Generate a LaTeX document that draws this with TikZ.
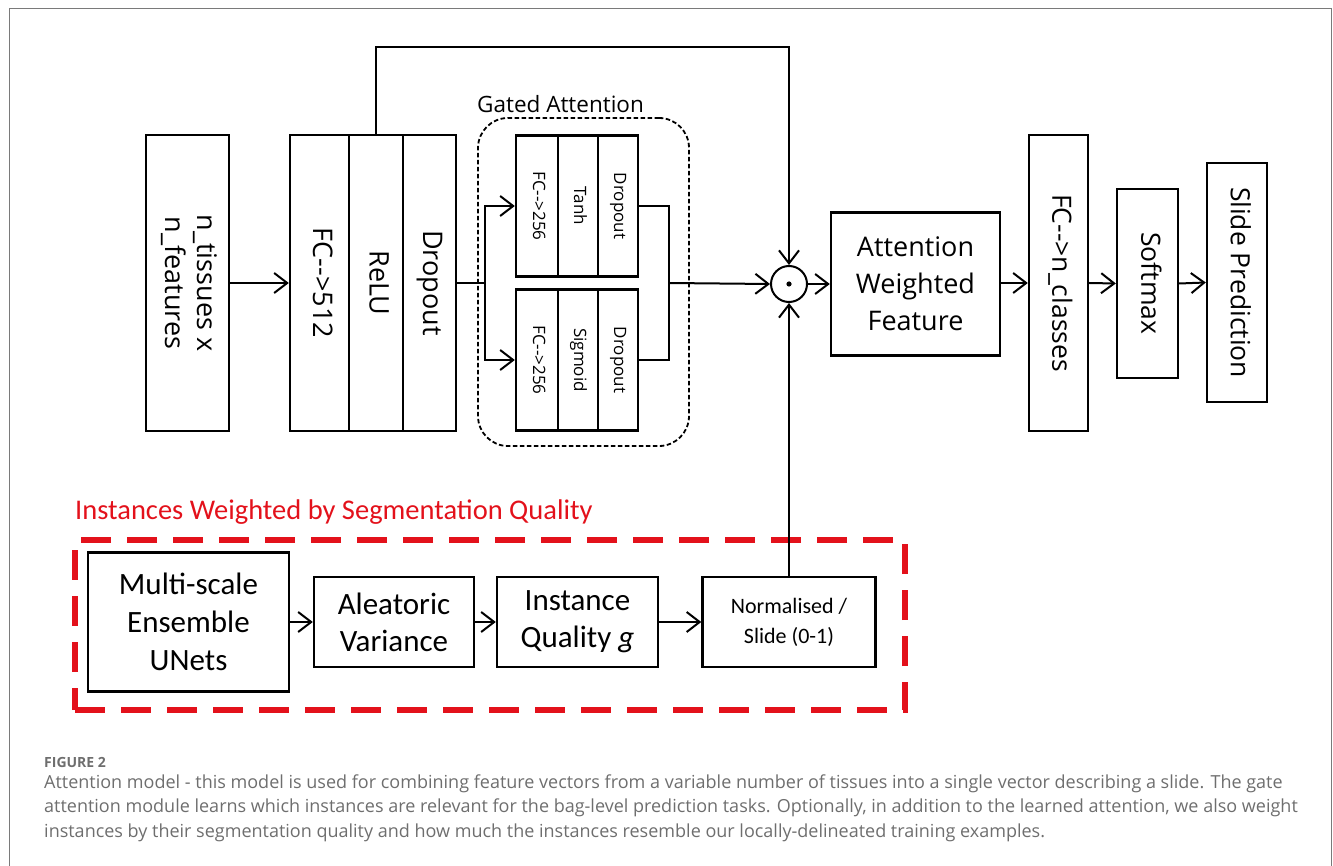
\documentclass[tikz,border=0pt]{standalone}
\usepackage{graphicx}
\usepackage{fontspec}
\setmainfont{Open Sans}
\newfontfamily\calib{Carlito}
\usetikzlibrary{arrows.meta}

\definecolor{capgray}{HTML}{6E6E6E}
\definecolor{framegray}{HTML}{7A7A7A}
\definecolor{segred}{HTML}{E3111B}

\newcommand{\vlab}[1]{\rotatebox{-90}{\begin{tabular}{@{}c@{}}#1\end{tabular}}}
\newcommand{\bigf}{\fontsize{27}{32}\selectfont}
\newcommand{\midf}{\fontsize{26.5}{31}\selectfont}
\newcommand{\smallf}{\fontsize{17}{20}\selectfont}

\tikzset{
  box/.style={draw, line width=2.4pt, inner sep=0pt, align=center},
  arr/.style={line width=2pt, -{Straight Barb[length=13pt,width=20pt,line width=2pt]}},
  wire/.style={line width=2pt},
  reddash/.style={draw=segred, line width=6.5pt, dash pattern=on 30pt off 16pt},
  gatedash/.style={draw, line width=1.8pt, dash pattern=on 4.5pt off 2.5pt, rounded corners=30pt},
  captext/.style={anchor=base west, inner sep=0pt, text=capgray, font=\fontsize{18}{22}\selectfont}
}

\begin{document}
\begin{tikzpicture}[x=1pt,y=-1pt]
\useasboundingbox (0,0) rectangle (1333,866);

% frame
\draw[framegray, line width=1.3pt] (9.5,866) -- (9.5,8.5) -- (1331.5,8.5) -- (1331.5,866);

% input and first layer
\node[box, minimum width=83, minimum height=296] (input) at (187.5,283) {\bigf\vlab{n\_tissues x\\n\_features}};
\node[box, minimum width=59, minimum height=296] (fc) at (319.5,283) {\bigf\vlab{FC{-}{-}>512}};
\node[box, minimum width=54, minimum height=296] (relu) at (376,283) {\bigf\vlab{ReLU}};
\node[box, minimum width=53, minimum height=296] (drop) at (429.5,283) {\bigf\vlab{Dropout}};

% gated attention
\node[gatedash, minimum width=211, minimum height=328] (gate) at (583.5,282) {};
\node[anchor=base west, inner sep=0pt, font=\fontsize{22.5}{26}\selectfont] (gatetitle) at (477,113) {Gated Attention};
\node[box, minimum width=42, minimum height=141] (tfc) at (537,206) {\smallf\vlab{FC{-}{-}>256}};
\node[box, minimum width=40, minimum height=141] (tanh) at (578,206) {\smallf\vlab{Tanh}};
\node[box, minimum width=40, minimum height=141] (tdrop) at (618,206) {\smallf\vlab{Dropout}};
\node[box, minimum width=42, minimum height=141] (sfc) at (537,360) {\smallf\vlab{FC{-}{-}>256}};
\node[box, minimum width=40, minimum height=141] (sig) at (578,360) {\smallf\vlab{Sigmoid}};
\node[box, minimum width=40, minimum height=141] (sdrop) at (618,360) {\smallf\vlab{Dropout}};

% product and head
\node[draw, circle, line width=2pt, minimum size=36, inner sep=0pt] (mult) at (789,284) {};
\fill (mult.center) circle (2.6);
\node[box, minimum width=169, minimum height=143, font=\fontsize{27}{37}\selectfont] (awf) at (915.5,284) {Attention\\Weighted\\Feature};
\node[box, minimum width=59, minimum height=296] (fccls) at (1058.5,283) {\midf\vlab{FC{-}{-}>n\_classes}};
\node[box, minimum width=61, minimum height=189] (soft) at (1147.5,283.5) {\midf\vlab{Softmax}};
\node[box, minimum width=60, minimum height=239] (pred) at (1237,282.5) {\midf\vlab{Slide Prediction}};

% segmentation quality branch
\node[reddash, minimum width=830, minimum height=170] (segbox) at (490,625) {};
\node[anchor=base west, inner sep=0pt, text=segred, font=\calib\fontsize{28.5}{33}\selectfont] (segtitle) at (75,519) {Instances Weighted by Segmentation Quality};
\node[box, minimum width=201, minimum height=139, font=\calib\fontsize{31}{38}\selectfont] (unets) at (188.5,622) {Multi-scale\\Ensemble\\UNets};
\node[box, minimum width=160, minimum height=90, font=\calib\fontsize{31}{37}\selectfont] (alea) at (394,622) {Aleatoric\\Variance};
\node[box, minimum width=161, minimum height=90, font=\calib\fontsize{31}{37}\selectfont] (quality) at (577.5,622) {Instance\\Quality \textit{g}};
\node[box, minimum width=173, minimum height=90, font=\calib\fontsize{22}{30}\selectfont] (norm) at (789,622) {Normalised /\\Slide (0-1)};

% connectors
\coordinate (split) at (485,283);
\coordinate (merge) at (669,283);
\coordinate (skip) at (789,47);
\draw[arr] (input.east) -- (fc.west);
\draw[wire] (drop.east) -- (split);
\draw[arr] (split) |- (tfc.west);
\draw[arr] (split) |- (sfc.west);
\draw[wire] (tdrop.east) -| (merge) |- (sdrop.east);
\draw[arr] (merge) -- (mult.west);
\draw[arr] (relu.north) |- (skip) -- (mult.north);
\draw[arr] (norm.north) -- (mult.south);
\draw[arr] (mult.east) -- (awf.west);
\draw[arr] (awf.east |- fccls.west) -- (fccls.west);
\draw[arr] (fccls.east) -- (soft.west);
\draw[arr] (soft.east) -- (pred.west);
\draw[arr] (unets.east) -- (alea.west);
\draw[arr] (alea.east) -- (quality.west);
\draw[arr] (quality.east) -- (norm.west);

% caption
\node[anchor=base west, inner sep=0pt, text=capgray, font=\fontsize{14}{16}\selectfont\bfseries] (caphead) at (44,767) {FIGURE 2};
\node[captext] (cap1) at (44,788) {Attention model - this model is used for combining feature vectors from a variable number of tissues into a single vector describing a slide. The gate};
\node[captext] (cap2) at (44,812.5) {attention module learns which instances are relevant for the bag-level prediction tasks. Optionally, in addition to the learned attention, we also weight};
\node[captext] (cap3) at (44,837) {instances by their segmentation quality and how much the instances resemble our locally-delineated training examples.};
\end{tikzpicture}
\end{document}
